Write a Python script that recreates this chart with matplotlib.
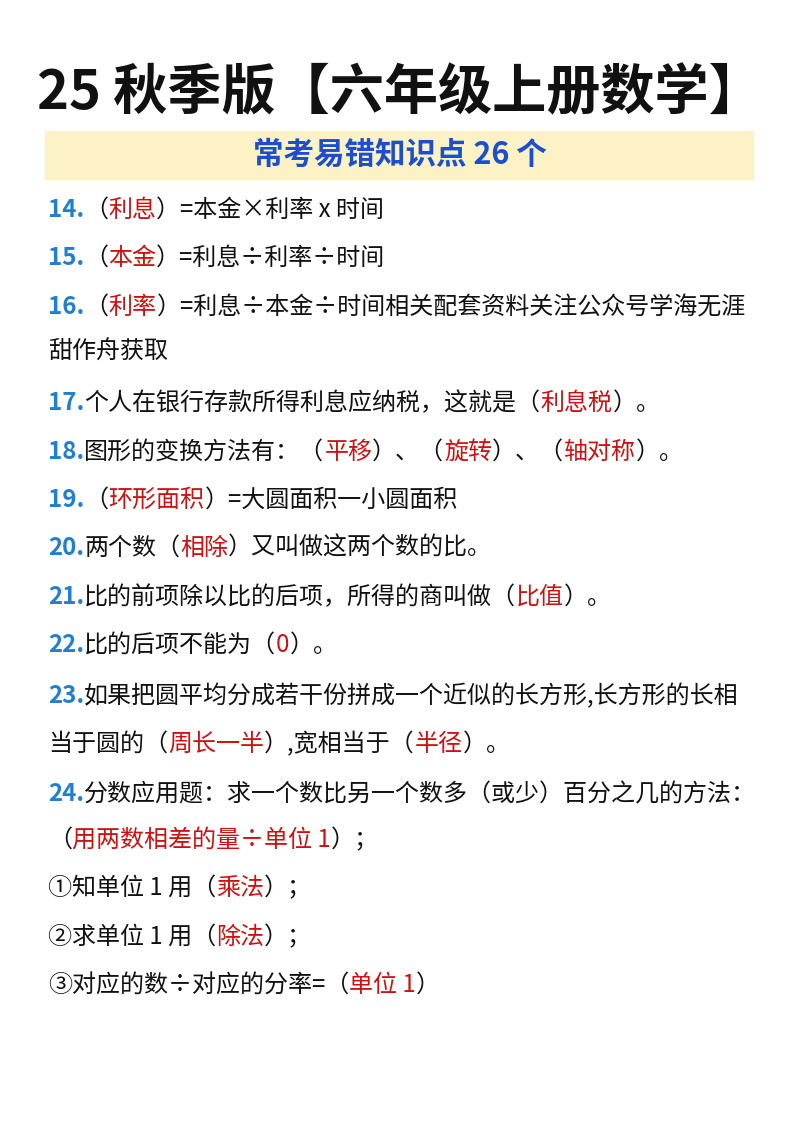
import matplotlib
matplotlib.use('Agg')
import matplotlib.pyplot as plt
from matplotlib.patches import Rectangle

plt.rcParams['font.family'] = ['Noto Sans CJK SC', 'DejaVu Sans']

title = '25 秋季版【六年级上册数学】'
subtitle = '常考易错知识点 26 个'

# each row: list of (text, kind); n = blue number, k = black, r = red
rows = [
    [('14.', 'n'), ('（', 'k'), ('利息', 'r'), ('）=本金×利率 x 时间', 'k')],
    [('15.', 'n'), ('（', 'k'), ('本金', 'r'), ('）=利息÷利率÷时间', 'k')],
    [('16.', 'n'), ('（', 'k'), ('利率', 'r'), ('）=利息÷本金÷时间相关配套资料关注公众号学海无涯', 'k')],
    [('甜作舟获取', 'k')],
    [('17.', 'n'), ('个人在银行存款所得利息应纳税，这就是（', 'k'), ('利息税', 'r'), ('）。', 'k')],
    [('18.', 'n'), ('图形的变换方法有：（', 'k'), ('平移', 'r'), ('）、（', 'k'), ('旋转', 'r'), ('）、（', 'k'), ('轴对称', 'r'), ('）。', 'k')],
    [('19.', 'n'), ('（', 'k'), ('环形面积', 'r'), ('）=大圆面积一小圆面积', 'k')],
    [('20.', 'n'), ('两个数（', 'k'), ('相除', 'r'), ('）又叫做这两个数的比。', 'k')],
    [('21.', 'n'), ('比的前项除以比的后项，所得的商叫做（', 'k'), ('比值', 'r'), ('）。', 'k')],
    [('22.', 'n'), ('比的后项不能为（', 'k'), ('0', 'r'), ('）。', 'k')],
    [('23.', 'n'), ('如果把圆平均分成若干份拼成一个近似的长方形,长方形的长相', 'k')],
    [('当于圆的（', 'k'), ('周长一半', 'r'), ('）,宽相当于（', 'k'), ('半径', 'r'), ('）。', 'k')],
    [('24.', 'n'), ('分数应用题：求一个数比另一个数多（或少）百分之几的方法：', 'k')],
    [('（', 'k'), ('用两数相差的量÷单位 1', 'r'), ('）；', 'k')],
    [('①知单位 1 用（', 'k'), ('乘法', 'r'), ('）；', 'k')],
    [('②求单位 1 用（', 'k'), ('除法', 'r'), ('）；', 'k')],
    [('③对应的数÷对应的分率=（', 'k'), ('单位 1', 'r'), ('）', 'k')],
]
row_y = [210, 258, 307, 352, 403, 452, 500, 548, 597, 645, 696, 744, 794, 840, 888, 937, 985]

colors = {'n': '#1f7fd0', 'k': '#111111', 'r': '#d01010'}

W, H = 800, 1132
fig = plt.figure(figsize=(8, 11.32), dpi=100)
ax = fig.add_axes([0, 0, 1, 1])
ax.set_xlim(0, W)
ax.set_ylim(H, 0)
ax.axis('off')

ax.text(400, 94, title, ha='center', va='center', fontsize=39, weight='heavy', color='#111111')
ax.add_patch(Rectangle((45, 131), 708, 48, color='#fdf2c6', zorder=0))
ax.text(400, 155, subtitle, ha='center', va='center', fontsize=22, weight='bold', color='#1b4fd0')

renderer = fig.canvas.get_renderer()
for segs, y in zip(rows, row_y):
    x = 48
    for s, kind in segs:
        t = ax.text(x, y, s, ha='left', va='center', fontsize=17.3, color=colors[kind],
                    weight='bold' if kind == 'n' else 'normal')
        bb = t.get_window_extent(renderer)
        x += bb.width

fig.savefig('out.png', dpi=100)
